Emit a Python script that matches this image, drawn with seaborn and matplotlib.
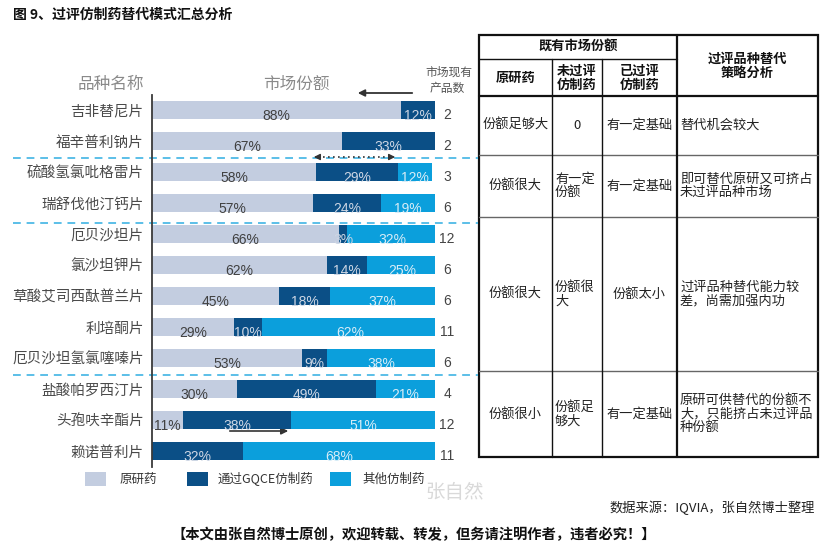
import numpy as np
import pandas as pd
import seaborn as sns
import matplotlib
matplotlib.use("Agg")
import matplotlib.pyplot as plt
from matplotlib.patches import Rectangle

# 数据
drugs = ['吉非替尼片', '福辛普利钠片', '硫酸氢氯吡格雷片', '瑞舒伐他汀钙片', '厄贝沙坦片', '氯沙坦钾片',
         '草酸艾司西酞普兰片', '利培酮片', '厄贝沙坦氢氯噻嗪片', '盐酸帕罗西汀片', '头孢呋辛酯片', '赖诺普利片']
original = [88, 67, 58, 57, 66, 62, 45, 29, 53, 30, 11, 0]
gqce = [12, 33, 29, 24, 3, 14, 18, 10, 9, 49, 38, 32]
other = [0, 0, 12, 19, 32, 25, 37, 62, 38, 21, 51, 68]
counts = [2, 2, 3, 6, 12, 6, 6, 11, 6, 4, 12, 11]
series_names = ['原研药', '通过GQCE仿制药', '其他仿制药']
colors = ['#c3cde0', '#0b4f86', '#0b9fdc']
text_colors = ['#404040', '#cdd6e4', '#d6ecf7']

# 表格内容
tbl_head_top = '既有市场份额'
tbl_heads = ['原研药', '未过评\n仿制药', '已过评\n仿制药', '过评品种替代\n策略分析']
tbl_original = ['份额足够大', '份额很大', '份额很大', '份额很小']
tbl_unpassed = ['0', '有一定\n份额', '份额很\n大', '份额足\n够大']
tbl_passed = ['有一定基础', '有一定基础', '份额太小', '有一定基础']
tbl_strategy = ['替代机会较大', '即可替代原研又可挤占\n未过评品种市场',
                '过评品种替代能力较\n差，尚需加强内功', '原研可供替代的份额不\n大，只能挤占未过评品\n种份额']

sns.set_theme(style='white')
plt.rcParams['font.family'] = ['Noto Sans CJK SC', 'DejaVu Sans']

W, H = 827, 547
fig = plt.figure(figsize=(W / 100, H / 100), dpi=100)

# 像素坐标的覆盖层
ov = fig.add_axes([0, 0, 1, 1])
ov.set_xlim(0, W)
ov.set_ylim(H, 0)
ov.axis('off')

ax = fig.add_axes([152 / W, 1 - 466.5 / H, 283 / W, 372 / H])
ax.patch.set_alpha(0)

df = pd.DataFrame({'drug': drugs, 'original': original, 'gqce': gqce, 'other': other})
df['c1'] = df['original']
df['c2'] = df['c1'] + df['gqce']
df['c3'] = df['c2'] + df['other']

for col, c in zip(['c3', 'c2', 'c1'], colors[::-1]):
    sns.barplot(data=df, x=col, y='drug', color=c, orient='h', width=0.58,
                saturation=1, linewidth=0, ax=ax)

ax.set_xlim(0, 100)
ax.set_ylim(len(drugs) - 0.5, -0.5)
ax.set_xlabel('')
ax.set_ylabel('')
ax.set_xticks([])
for s in ['top', 'right', 'bottom']:
    ax.spines[s].set_visible(False)
ax.spines['left'].set_color('#3a3a3a')
ax.spines['left'].set_linewidth(1.3)
ax.tick_params(axis='y', length=0, pad=6, labelsize=10.5, labelcolor='#4a4a4a')

# 百分比标签
for i in range(len(drugs)):
    start = 0
    for k, v in enumerate([original[i], gqce[i], other[i]]):
        if v > 0:
            ax.text(start + v / 2, i + 0.18, f'{v}%', ha='center', va='center',
                    fontsize=10, color=text_colors[k], family=['Liberation Sans'])
        start += v
    ax.text(104.3, i + 0.15, str(counts[i]), ha='center', va='center',
            fontsize=10, color='#444444', family=['Liberation Sans'])

# 标题
ov.text(13, 15, '图 9、过评仿制药替代模式汇总分析', ha='left', va='center',
        fontsize=10, fontweight='bold', color='#111111')

# 图表表头
ov.text(111, 84, '品种名称', ha='center', va='center', fontsize=12, color='#8a8a8a')
ov.text(296, 84, '市场份额', ha='center', va='center', fontsize=12, color='#8a8a8a')
ov.text(449, 72, '市场现有', ha='center', va='center', fontsize=8.5, color='#555555')
ov.text(447, 88, '产品数', ha='center', va='center', fontsize=8.5, color='#555555')
ov.annotate('', xy=(355, 93), xytext=(415, 93),
            arrowprops=dict(arrowstyle='-|>', color='#333333', lw=1.3, mutation_scale=10))

# 分组虚线
for yy in [158, 223, 375]:
    ov.plot([13, 478], [yy, yy], color='#5bbfe8', lw=1.4, ls=(0, (4, 3)))

# 双向虚线箭头
ov.plot([318, 391], [157, 157], color='#333333', lw=1.2, ls=(0, (1, 2)))
ov.annotate('', xy=(311, 157), xytext=(320, 157),
            arrowprops=dict(arrowstyle='-|>', color='#333333', lw=1, mutation_scale=9))
ov.annotate('', xy=(398, 157), xytext=(389, 157),
            arrowprops=dict(arrowstyle='-|>', color='#333333', lw=1, mutation_scale=9))
ov.annotate('', xy=(291, 431), xytext=(227, 431),
            arrowprops=dict(arrowstyle='-|>', color='#333333', lw=1.2, mutation_scale=10))

# 图例
leg_box_x = [85, 187, 330]
leg_txt_x = [120, 218, 362]
for name, c, bx, tx in zip(series_names, colors, leg_box_x, leg_txt_x):
    ov.add_patch(Rectangle((bx, 472), 21, 14, color=c, lw=0))
    ov.text(tx, 479, name, ha='left', va='center', fontsize=9, color='#333333')
ov.text(455, 492, '张自然', ha='center', va='center', fontsize=14, color='#d9d9d9')

# 表格
xs = [479, 552, 602, 677, 818]
ys = [35, 59, 96, 155, 217, 371, 457]
ov.add_patch(Rectangle((xs[0], ys[0]), xs[-1] - xs[0], ys[-1] - ys[0],
                       fill=False, ec='#111111', lw=1.6))
ov.plot([xs[0], xs[3]], [ys[1], ys[1]], color='#111111', lw=1)
ov.plot([xs[0], xs[-1]], [ys[2], ys[2]], color='#111111', lw=1.6)
for yy in ys[3:6]:
    ov.plot([xs[0], xs[-1]], [yy, yy], color='#666666', lw=1)
for xx in xs[1:3]:
    ov.plot([xx, xx], [ys[1], ys[-1]], color='#111111', lw=1)
ov.plot([xs[3], xs[3]], [ys[0], ys[-1]], color='#111111', lw=1.6)

hd = dict(ha='center', va='center', fontsize=9.5, fontweight='bold', color='#111111', linespacing=1.05)
ov.text((xs[0] + xs[3]) / 2, 47, tbl_head_top, **hd)
for j in range(3):
    ov.text((xs[j] + xs[j + 1]) / 2, 78, tbl_heads[j], **hd)
ov.text((xs[3] + xs[4]) / 2, 66, tbl_heads[3], **hd)

cell = dict(va='center', fontsize=9.5, color='#222222', linespacing=1.05)
for r in range(4):
    yc = (ys[r + 2] + ys[r + 3]) / 2
    ov.text((xs[0] + xs[1]) / 2, yc, tbl_original[r], ha='center', **cell)
    if '\n' in tbl_unpassed[r]:
        ov.text(xs[1] + 3, yc, tbl_unpassed[r], ha='left', **cell)
    else:
        ov.text((xs[1] + xs[2]) / 2, yc, tbl_unpassed[r], ha='center', **cell)
    ov.text((xs[2] + xs[3]) / 2, yc, tbl_passed[r], ha='center', **cell)
    ov.text(xs[3] + 3, yc, tbl_strategy[r], ha='left', **cell)

# 来源与声明
ov.text(815, 508, '数据来源：IQVIA，张自然博士整理', ha='right', va='center',
        fontsize=9.5, color='#222222')
ov.text(414, 535, '【本文由张自然博士原创，欢迎转载、转发，但务请注明作者，违者必究！】',
        ha='center', va='center', fontsize=10.3, fontweight='bold', color='#111111')

fig.savefig('out.png', dpi=100)
